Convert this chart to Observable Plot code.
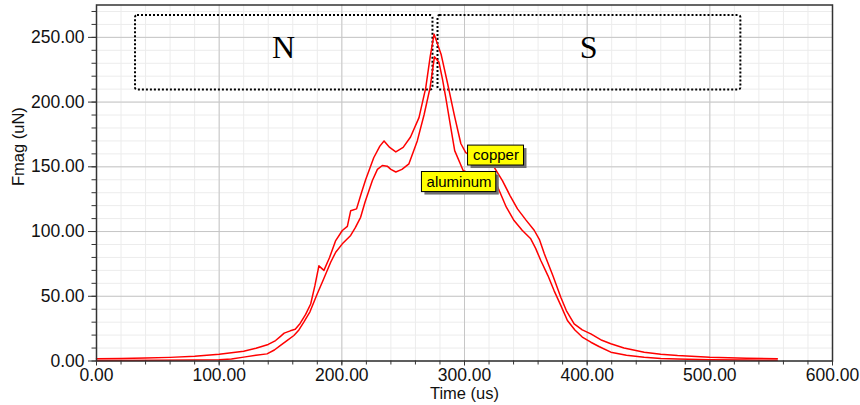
<!DOCTYPE html>
<html>
<head>
<meta charset="utf-8">
<script src="https://cdn.jsdelivr.net/npm/d3@7"></script>
<script src="https://cdn.jsdelivr.net/npm/@observablehq/plot@0.6"></script>
<style>
  html, body { margin: 0; padding: 0; background: #fff; }
  #chart { width: 860px; height: 405px; }
</style>
</head>
<body>
<div id="chart"></div>
<script>
// Copper series (time in us, force in uN)
const timeCopper = [0, 20, 40, 60, 80, 100, 110, 120, 130, 140, 146, 150, 153, 158, 162, 166, 170.5, 174.6, 178, 181.3, 185.4, 190, 195, 200.4, 204.5, 207.2, 212, 216, 219.4, 226, 231, 234.4, 239, 244, 250, 256, 262.9, 268.4, 272, 275.2, 280.9, 286.3, 291.7, 297, 301, 310, 318, 324, 330.9, 337, 343.2, 350, 356.8, 361, 365, 372, 378.5, 383, 389.4, 396, 403, 412, 419.3, 430, 446.5, 460, 473.7, 500, 530, 555];
const copper = [1.8, 2.0, 2.3, 2.8, 3.7, 5.2, 6.3, 7.6, 9.8, 12.8, 15.8, 19, 21.5, 23.3, 24.5, 29, 36, 44, 58, 73.5, 70, 80, 93, 100.8, 104, 116, 117.5, 130, 140, 157, 166, 170, 165, 161.5, 165, 173, 188, 211, 235, 252.5, 237, 214, 190, 168, 161, 156, 153, 150, 139.4, 128, 117.5, 109, 101, 94, 83, 66, 49.3, 39, 28.7, 24, 21, 16, 13.3, 10, 6.8, 5.2, 4.2, 2.9, 2.2, 1.7];

// Aluminum series
const timeAluminum = [0, 50, 80, 100, 110, 120, 130, 139, 145, 150, 155, 160.9, 165, 169, 174, 180, 185, 190.9, 195, 200.4, 207.2, 211, 215.3, 219, 224.9, 229, 233, 237, 240, 244, 249, 254.7, 261.5, 267, 271.9, 275.5, 279.2, 282, 284.7, 288, 292, 299, 305, 312, 320, 325.4, 329.5, 334, 340.4, 347, 354, 358, 362.2, 368, 373, 378.5, 383.9, 390, 396, 403, 410, 419.3, 432, 446.5, 460, 473.7, 500, 530, 555];
const aluminum = [0.3, 0.5, 0.7, 0.9, 1.5, 3, 4.5, 5.5, 8.5, 12, 15.5, 19.7, 24, 30, 38, 51.9, 63, 76.3, 84, 90.5, 97, 103, 111, 123, 139.4, 148, 151, 150.5, 148, 146, 148, 152.3, 170, 190, 211, 235, 230.7, 218, 203.7, 185, 162.5, 147, 145, 143, 140.5, 138, 129, 119, 108.5, 101, 94.4, 87, 77.6, 66, 54.4, 43, 31.3, 24, 18.5, 14.5, 11, 6.8, 4.5, 2.9, 2, 1.5, 1, 0.7, 0.6];

// Axis ticks
const xTicks = [0, 100, 200, 300, 400, 500, 600];
const xMinorTicks = d3.range(0, 601, 20);
const yTicks = [0, 50, 100, 150, 200, 250];
const yMinorTicks = d3.range(0, 271, 10);

// Pole regions (N / S)
const poleNames = ["N", "S"];
const poleX1 = [31.8, 278.4];
const poleX2 = [274.3, 525.3];
const poleY1 = [209.4, 209.4];
const poleY2 = [266.8, 266.8];
const poleLabelX = [152.5, 401.3];
const poleLabelY = [242, 242];

// Series label boxes
const labelNames = ["copper", "aluminum"];
const labelX1 = [302.9, 265.3];
const labelX2 = [348.5, 325.9];
const labelY1 = [151.0, 130.5];
const labelY2 = [166.4, 146.0];

const copperData = timeCopper.map((t, i) => ({t, v: copper[i]}));
const aluminumData = timeAluminum.map((t, i) => ({t, v: aluminum[i]}));
const poles = poleNames.map((n, i) => ({n, x1: poleX1[i], x2: poleX2[i], y1: poleY1[i], y2: poleY2[i], lx: poleLabelX[i], ly: poleLabelY[i]}));
const labels = labelNames.map((n, i) => ({n, x1: labelX1[i], x2: labelX2[i], y1: labelY1[i], y2: labelY2[i], cx: (labelX1[i] + labelX2[i]) / 2, cy: (labelY1[i] + labelY2[i]) / 2}));

const fmt = d => d.toFixed(2);
const font = "Liberation Sans, Arial, sans-serif";

const chart = Plot.plot({
  width: 860,
  height: 405,
  marginLeft: 96,
  marginRight: 28,
  marginTop: 4.5,
  marginBottom: 44.5,
  style: {fontFamily: font, background: "#fff", overflow: "visible"},
  x: {domain: [0, 600], axis: null},
  y: {domain: [0, 275], axis: null},
  marks: [
    Plot.gridX(xMinorTicks, {stroke: "#ececec", strokeOpacity: 1}),
    Plot.gridY(yMinorTicks, {stroke: "#ececec", strokeOpacity: 1}),
    Plot.gridX(xTicks, {stroke: "#c6c6c6", strokeOpacity: 1}),
    Plot.gridY(yTicks, {stroke: "#c6c6c6", strokeOpacity: 1}),
    Plot.rect(poles, {x1: "x1", x2: "x2", y1: "y1", y2: "y2", fill: "none", stroke: "#000", strokeWidth: 2, strokeDasharray: "2,2", rx: 2}),
    Plot.text(poles, {x: "lx", y: "ly", text: "n", fontFamily: "Liberation Serif, Times New Roman, serif", fontSize: 32, fill: "#000"}),
    Plot.line(copperData, {x: "t", y: "v", stroke: "#ff0000", strokeWidth: 1.5}),
    Plot.line(aluminumData, {x: "t", y: "v", stroke: "#ff0000", strokeWidth: 1.5}),
    Plot.rect(labels, {x1: "x1", x2: "x2", y1: "y1", y2: "y2", fill: "#707070", dx: 3, dy: 3}),
    Plot.rect(labels, {x1: "x1", x2: "x2", y1: "y1", y2: "y2", fill: "#ffff00", stroke: "#000", strokeWidth: 1}),
    Plot.text(labels, {x: "cx", y: "cy", text: "n", fontSize: 15, fill: "#000", fontFamily: font}),
    Plot.frame({stroke: "#333", strokeWidth: 1.5}),
    Plot.axisY(yMinorTicks, {tickSize: 4.5, tickFormat: () => "", label: null, stroke: "#333"}),
    Plot.axisY(yTicks, {tickSize: 8, tickPadding: 4, tickFormat: fmt, label: null, fontSize: 17.5, fill: "#111", stroke: "#333"}),
    Plot.axisX(xMinorTicks, {tickSize: 4, tickFormat: () => "", label: null, stroke: "#333"}),
    Plot.axisX(xTicks, {tickSize: 5, tickPadding: 3, tickFormat: fmt, label: null, fontSize: 17.5, fill: "#111", stroke: "#333"}),
    Plot.text(["Time (us)"], {frameAnchor: "bottom", lineAnchor: "middle", dy: 33, fontSize: 16.5, fill: "#111", fontFamily: font}),
    Plot.text(["Fmag (uN)"], {frameAnchor: "left", dx: -78, dy: 3, rotate: -90, fontSize: 16.5, fill: "#111", fontFamily: font})
  ]
});
document.getElementById("chart").appendChild(chart);
</script>
</body>
</html>
